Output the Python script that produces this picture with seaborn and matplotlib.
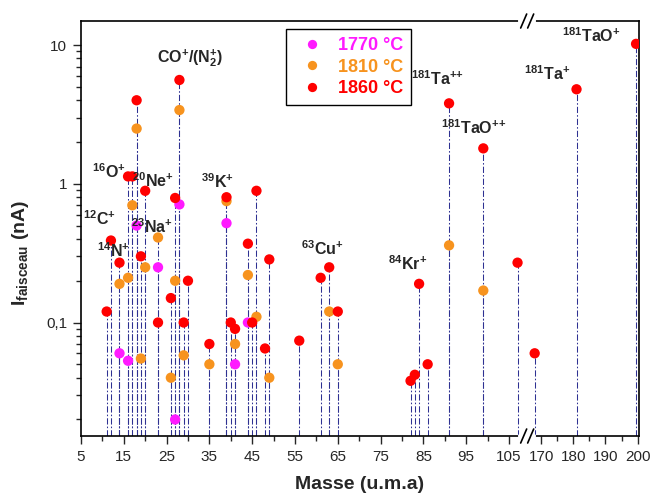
import numpy as np
import pandas as pd
import seaborn as sns
import matplotlib.pyplot as plt
from matplotlib.ticker import LogLocator, NullFormatter

# Data (mass in u.m.a, beam current in nA)
masse_1770 = [14, 16, 18, 23, 27, 28, 39, 41, 44]
courant_1770 = [0.060, 0.053, 0.50, 0.25, 0.020, 0.71, 0.52, 0.050, 0.10]

masse_1810 = [14, 16, 17, 18, 19, 20, 23, 26, 27, 28, 29, 35, 39, 41, 44, 46, 49,
              63, 65, 91, 99]
courant_1810 = [0.19, 0.21, 0.70, 2.5, 0.055, 0.25, 0.41, 0.040, 0.20, 3.4, 0.058,
                0.050, 0.75, 0.070, 0.22, 0.11, 0.040, 0.12, 0.050, 0.36, 0.17]

masse_1860 = [11, 12, 14, 16, 17, 18, 19, 20, 23, 26, 27, 28, 29, 30, 35, 39, 40,
              41, 44, 45, 46, 48, 49, 56, 61, 63, 65, 82, 83, 84, 86, 91, 99, 107,
              168, 181, 199.5]
courant_1860 = [0.12, 0.39, 0.27, 1.13, 1.13, 4.0, 0.30, 0.89, 0.10, 0.15, 0.79,
                5.6, 0.10, 0.20, 0.070, 0.80, 0.10, 0.090, 0.37, 0.10, 0.89, 0.065,
                0.285, 0.074, 0.21, 0.25, 0.12, 0.038, 0.042, 0.19, 0.050, 3.8, 1.8,
                0.27, 0.060, 4.8, 10.2]

temperatures = ['1770 °C', '1810 °C', '1860 °C']
couleurs = ['#ff1aff', '#f7931e', '#ff0000']

xticks = [5, 15, 25, 35, 45, 55, 65, 75, 85, 95, 105, 170, 180, 190, 200]
xticks_minor = [10, 20, 30, 40, 50, 60, 70, 80, 90, 100, 175, 185, 195]

# peak labels: (masse, courant, texte)
etiquettes = [
    (30.5, 8.05, r'CO$^{+}$/($N^{+}_{2}$)'),
    (11.6, 1.23, r'$^{16}O^{+}$'),
    (21.9, 1.06, r'$^{20}Ne^{+}$'),
    (9.4, 0.56, r'$^{12}C^{+}$'),
    (21.6, 0.49, r'$^{23}Na^{+}$'),
    (36.8, 1.04, r'$^{39}K^{+}$'),
    (12.7, 0.33, r'$^{14}N^{+}$'),
    (61.5, 0.34, r'$^{63}Cu^{+}$'),
    (81.4, 0.267, r'$^{84}Kr^{+}$'),
    (88.2, 5.69, r'$^{181}Ta^{{+}{+}}$'),
    (96.8, 2.52, r'$^{181}TaO^{{+}{+}}$'),
    (171.8, 6.17, r'$^{181}Ta^{+}$'),
    (185.5, 11.6, r'$^{181}TaO^{+}$'),
]

df = pd.concat([
    pd.DataFrame({'masse': masse_1770, 'I': courant_1770, 'T': temperatures[0]}),
    pd.DataFrame({'masse': masse_1810, 'I': courant_1810, 'T': temperatures[1]}),
    pd.DataFrame({'masse': masse_1860, 'I': courant_1860, 'T': temperatures[2]}),
], ignore_index=True)

sns.set_style('ticks')
plt.rcParams['font.family'] = ['Liberation Sans', 'DejaVu Sans']
plt.rcParams['mathtext.default'] = 'regular'

# broken x axis : 5-109 linear, then 166-200 compressed
B1, B2, GAP, K = 109.0, 166.0, 0.5, 0.752


def fwd(x):
    x = np.asarray(x, dtype=float)
    return np.where(x <= B1, x,
                    np.where(x >= B2, B1 + GAP + (x - B2) * K,
                             B1 + (x - B1) * GAP / (B2 - B1)))


def inv(t):
    t = np.asarray(t, dtype=float)
    return np.where(t <= B1, t,
                    np.where(t >= B1 + GAP, B2 + (t - B1 - GAP) / K,
                             B1 + (t - B1) * (B2 - B1) / GAP))


YMIN, YMAX = 0.0152, 14.9
XMIN, XMAX = 5, 200.4

fig, ax = plt.subplots(figsize=(6.52, 4.97), dpi=100)
fig.subplots_adjust(left=0.1242, right=0.980, top=0.9577, bottom=0.1227)

# drop lines
ax.vlines(df['masse'], YMIN, df['I'], colors='#2e3192',
          linestyles=(0, (6, 2, 1.5, 2)), linewidth=0.75, zorder=1)

sns.scatterplot(data=df, x='masse', y='I', hue='T', hue_order=temperatures,
                palette=couleurs, s=55, linewidth=0, zorder=3, ax=ax)

ax.set_yscale('log')
ax.set_xscale('function', functions=(fwd, inv))
ax.set_xlim(XMIN, XMAX)
ax.set_ylim(YMIN, YMAX)

ax.set_xticks(xticks, [str(v) for v in xticks])
ax.set_xticks(xticks_minor, minor=True)
ax.set_yticks([0.1, 1, 10], ['0,1', '1', '10'])
ax.yaxis.set_minor_locator(LogLocator(base=10, subs=np.arange(2, 10)))
ax.yaxis.set_minor_formatter(NullFormatter())
ax.tick_params(which='major', direction='out', length=6, width=1, labelsize=11, pad=4)
ax.tick_params(which='minor', direction='out', length=3.5, width=1)
for sp in ax.spines.values():
    sp.set_linewidth(1.2)
    sp.set_color('black')

ax.set_xlabel('Masse (u.m.a)', fontsize=14, fontweight='bold', labelpad=9)
ax.set_ylabel(r'I$_{faisceau}$ (nA)', fontsize=14, fontweight='bold')
ax.yaxis.set_label_coords(-0.09, 0.44)

for x, y, txt in etiquettes:
    ax.text(x, y, txt, fontsize=11.5, fontweight='bold', ha='center', va='center')

# legend with coloured labels
handles, labels = ax.get_legend_handles_labels()
leg = ax.legend(handles, labels, loc='upper left', bbox_to_anchor=(0.367, 0.981),
                borderaxespad=0, frameon=True, fancybox=False, framealpha=1,
                edgecolor='black', handlelength=2.0, handletextpad=0.45,
                borderpad=0.45, labelspacing=0.25, markerscale=0.9,
                prop={'size': 13, 'weight': 'bold'})
leg.get_frame().set_linewidth(1.0)
for t, c in zip(leg.get_texts(), couleurs):
    t.set_color(c)

# axis break marks "//"
span = fwd(XMAX) - fwd(XMIN)
xb = float((fwd((B1 + B2) / 2) - fwd(XMIN)) / span)
ax_w = 0.980 - 0.1242
ax_h = 0.9577 - 0.1227
px_x = 1.0 / (652 * ax_w)
px_y = 1.0 / (497 * ax_h)
for y0 in (0, 1):
    ax.plot([xb - 7 * px_x, xb + 7 * px_x], [y0, y0], color='white', lw=3,
            transform=ax.transAxes, clip_on=False, zorder=6)
    for off in (-3.5, 3.5):
        ax.plot([xb + (off - 3) * px_x, xb + (off + 3) * px_x],
                [y0 - 7 * px_y, y0 + 7 * px_y], color='black', lw=1.2,
                transform=ax.transAxes, clip_on=False, zorder=7)

fig.savefig('out.png', dpi=100)
